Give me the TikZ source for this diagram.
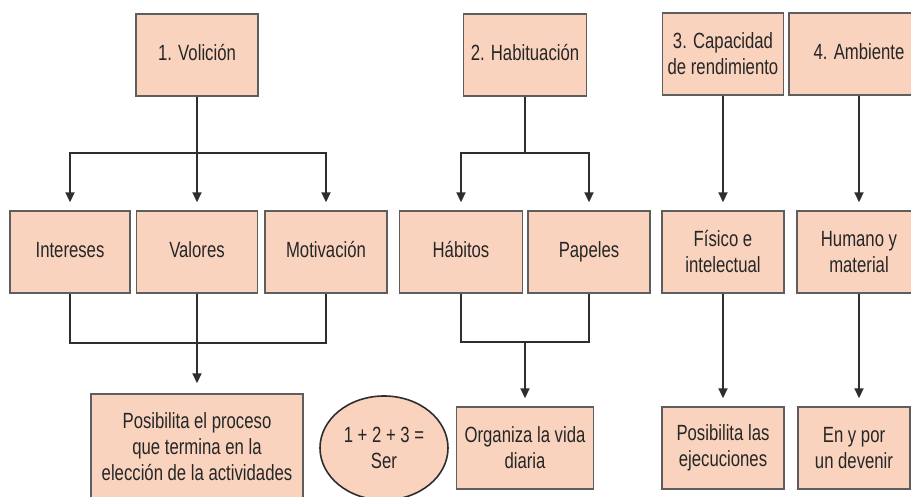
\documentclass[tikz,border=0pt]{standalone}
\usepackage{fontspec}
\setmainfont[FakeStretch=0.76]{Liberation Sans}
\usetikzlibrary{arrows.meta,shapes.geometric}
\definecolor{peach}{HTML}{FAD3BF}
\definecolor{edge}{HTML}{5E5E5E}
\definecolor{wire}{HTML}{2E2E2E}

\begin{document}
\begin{tikzpicture}[x=1pt, y=-1pt,
    box/.style={draw=edge, fill=peach, line width=1.4pt, minimum height=82pt,
        inner sep=2pt, align=center, text=black!85,
        font=\fontsize{22}{26}\selectfont},
    one/.style={text height=16pt, text depth=5pt},
    wire/.style={draw=wire, line width=1.8pt},
    arr/.style={wire, -{Triangle[length=10pt,width=9pt]}, shorten >=8pt}]

    \useasboundingbox (0,0) rectangle (911,497);
    \clip (0,0) rectangle (911,497);

    % top row
    \node[box, one, minimum width=122pt] (vol) at (197,55) {1. Volición};
    \node[box, one, minimum width=123pt] (hab) at (525,55) {2. Habituación};
    \node[box, minimum width=121pt] (cap) at (723,54) {3. Capacidad\\de rendimiento};
    \node[box, one, minimum width=140pt] (amb) at (859,54) {4. Ambiente};

    % middle row
    \node[box, one, minimum width=120pt] (int) at (70,252) {Intereses};
    \node[box, one, minimum width=121pt] (val) at (197,252) {Valores};
    \node[box, one, minimum width=122pt] (mot) at (326,252) {Motivación};
    \node[box, one, minimum width=123pt] (hbt) at (461,252) {Hábitos};
    \node[box, one, minimum width=122pt] (pap) at (589,252) {Papeles};
    \node[box, minimum width=122pt] (fis) at (723,252) {Físico e\\intelectual};
    \node[box, minimum width=124pt] (hum) at (859,252) {Humano y\\material};

    % bottom row
    \node[box, minimum width=212pt, minimum height=106pt] (pos) at (197,447)
        {Posibilita el proceso\\que termina en la\\elección de la actividades};
    \node[box, ellipse, draw=wire, line width=1.6pt, minimum width=128pt,
        minimum height=104pt] (ser) at (384,448) {1 + 2 + 3 =\\Ser};
    \node[box, minimum width=137pt] (org) at (525,448) {Organiza la vida\\diaria};
    \node[box, minimum width=122pt] (eje) at (723,448) {Posibilita las\\ejecuciones};
    \node[box, minimum width=112pt] (dev) at (854,448) {En y por\\un devenir};

    % volicion
    \coordinate (vsplit) at (197,153);
    \coordinate (vjoin) at (197,343);
    \draw[wire] (vol) -- (vsplit);
    \draw[arr] (vsplit) -| (int.north);
    \draw[arr] (vsplit) -- (val.north);
    \draw[arr] (vsplit) -| (mot.north);
    \draw[wire] (int.south) |- (vjoin) -| (mot.south);
    \draw[arr, shorten >=10pt] (val.south) -- (pos.north);

    % habituacion
    \coordinate (hsplit) at (525,153);
    \coordinate (hjoin) at (525,342);
    \draw[wire] (hab) -- (hsplit);
    \draw[arr] (hsplit) -| (hbt.north);
    \draw[arr] (hsplit) -| (pap.north);
    \draw[wire] (hbt.south) |- (hjoin) -| (pap.south);
    \draw[arr] (hjoin) -- (org.north);

    % capacidad, ambiente
    \draw[arr] (cap) -- (fis);
    \draw[arr] (fis) -- (eje);
    \draw[arr] (amb) -- (hum);
    \draw[arr] (hum.south) -- (hum.south |- dev.north);
\end{tikzpicture}
\end{document}
